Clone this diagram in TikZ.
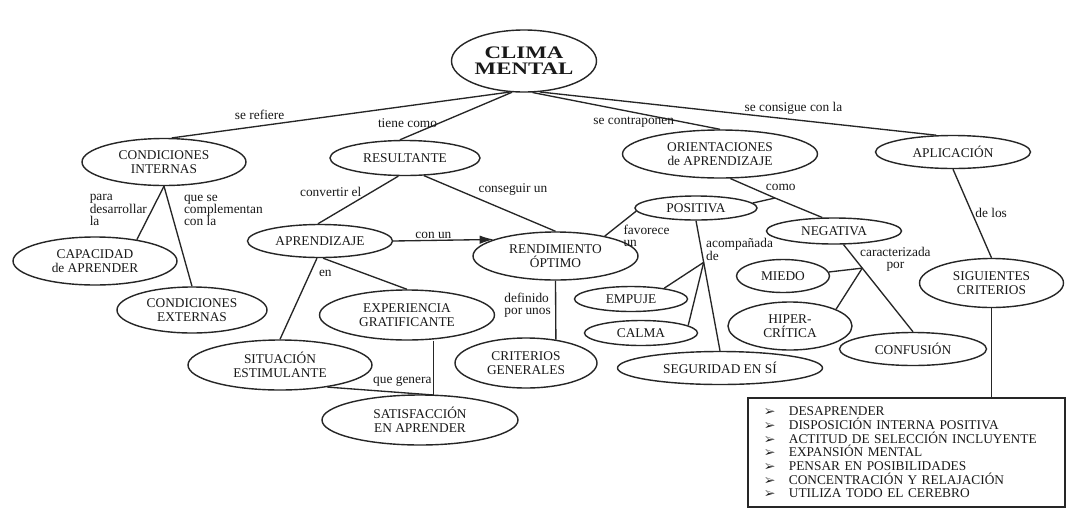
\documentclass[tikz,border=0pt]{standalone}
\usepackage{fontspec}
\setmainfont{Liberation Serif}
\newfontfamily\fuentetitulo[FakeStretch=1.3]{Liberation Serif}
\usepackage{pifont}
\usepackage{tikz}
\usetikzlibrary{arrows.meta,shapes.geometric,positioning}
\newcommand{\fuenteconcepto}{\fontsize{9.5}{10}\selectfont}
\newcommand{\fuenterotulo}{\fontsize{9.5}{8.8}\selectfont}
\newcommand{\fuentelista}{\fontsize{9.5}{9.7}\selectfont}
\newcommand{\vineta}{\makebox[17pt][l]{\fontsize{8}{8}\selectfont\ding{226}}}
\tikzset{%
  medida/.style 2 args={minimum width=#1*0.025cm,minimum height=#2*0.025cm},
  concepto/.style={ellipse,draw=black!85,line width=1pt,text=black!90,inner sep=0pt,align=center,font=\fuenteconcepto},
  titulo/.style={concepto,font=\fuentetitulo\bfseries\fontsize{12.5}{11.4}\selectfont},
  enlace/.style={draw=black!85,line width=0.95pt},
  conecta/.style={enlace,arrows=-{Latex[width=6pt,length=10pt]}},
  rotulo/.style={text=black!90,font=\fuenterotulo,align=left,inner sep=1pt},
  caja/.style={draw=black!85,line width=1pt,rectangle,align=left,text=black!90,font=\fuentelista,inner xsep=12pt,text width=7.075cm,minimum height=2.725cm}
}
\begin{document}
\begin{tikzpicture}[x=0.025cm,y=-0.025cm]
  \useasboundingbox[fill=white] (0,0) rectangle (1067,515);
  \node[titulo,medida={145}{62}] (clima) at (524,61) {CLIMA\\MENTAL};
  \node[concepto,medida={164}{47}] (cint) at (164,162) {CONDICIONES\\INTERNAS};
  \node[concepto,medida={150}{35}] (result) at (405,158) {RESULTANTE};
  \node[concepto,medida={195}{48}] (orient) at (720,154) {ORIENTACIONES\\de APRENDIZAJE};
  \node[concepto,medida={155}{33}] (aplic) at (953,152) {APLICACIÓN};
  \node[concepto,medida={164}{48}] (capac) at (95,261) {CAPACIDAD\\de APRENDER};
  \node[concepto,medida={150}{46}] (cext) at (192,310) {CONDICIONES\\EXTERNAS};
  \node[concepto,medida={145}{33}] (aprend) at (320,241) {APRENDIZAJE};
  \node[concepto,medida={165}{48}] (rendim) at (555.5,256) {RENDIMIENTO\\ÓPTIMO};
  \node[concepto,medida={122}{24}] (posit) at (696,208) {POSITIVA};
  \node[concepto,medida={135}{26}] (negat) at (834,231) {NEGATIVA};
  \node[concepto,medida={175}{50}] (experi) at (407,315) {EXPERIENCIA\\GRATIFICANTE};
  \node[concepto,medida={184}{50}] (situac) at (280,365) {SITUACIÓN\\ESTIMULANTE};
  \node[concepto,medida={196}{50}] (satisf) at (420,420) {SATISFACCIÓN\\EN APRENDER};
  \node[concepto,medida={142}{50}] (critgen) at (526,363) {CRITERIOS\\GENERALES};
  \node[concepto,medida={113}{25}] (empuje) at (631,299) {EMPUJE};
  \node[concepto,medida={113}{25}] (calma) at (641,333) {CALMA};
  \node[concepto,medida={205}{33}] (segur) at (720,368) {SEGURIDAD EN SÍ};
  \node[concepto,medida={93}{33}] (miedo) at (783,276) {MIEDO};
  \node[concepto,medida={124}{48}] (hiper) at (790,326) {HIPER-\\CRÍTICA};
  \node[concepto,medida={147}{33}] (confus) at (913,349) {CONFUSIÓN};
  \node[concepto,medida={144}{49}] (sigui) at (991.5,283) {SIGUIENTES\\CRITERIOS};
  \node[caja] (lista) at (906.5,452.5) {\vineta DESAPRENDER\\
    \vineta DISPOSICIÓN INTERNA POSITIVA\\
    \vineta ACTITUD DE SELECCIÓN INCLUYENTE\\
    \vineta EXPANSIÓN MENTAL\\
    \vineta PENSAR EN POSIBILIDADES\\
    \vineta CONCENTRACIÓN Y RELAJACIÓN\\
    \vineta UTILIZA TODO EL CEREBRO};

  \draw[enlace] (clima.245) -- node[rotulo,pos=0.74,above=3pt] (r-refiere) {se refiere} (cint.72);
  \draw[enlace] (clima.249) -- node[rotulo,pos=0.65,left] (r-tiene) {tiene como} (result.106);
  \draw[enlace] (clima.285) -- node[rotulo,pos=0.54,below=2pt] (r-contra) {se contraponen} (orient.north);
  \draw[enlace] (clima.297) -- node[rotulo,pos=0.64,above=2pt] (r-consigue) {se consigue con la} (aplic.135);
  \draw[enlace] (cint.south) -- node[rotulo,pos=0.45,left=2pt] (r-desarr) {para\\desarrollar\\la} (capac.27);
  \draw[enlace] (cint.south) -- node[rotulo,pos=0.24,right=8pt] (r-comple) {que se\\complementan\\con la} (cext.north);
  \draw[enlace] (result.250) -- node[rotulo,pos=0.33,left=6pt] (r-convert) {convertir el} (aprend.97);
  \draw[enlace] (result.317) -- node[rotulo,pos=0.4,above right] (r-conseg) {conseguir un} (rendim.north);
  \draw[conecta] (aprend.east) -- node[rotulo,pos=0.4,above] (r-conun) {con un} (rendim.165);
  \draw[enlace] (aprend.260) -- node[rotulo,pos=0.19,right=5pt] (r-en) {en} (situac.north);
  \draw[enlace] (aprend.280) -- (experi.north);
  \coordinate (jsat) at (433.5,395);
  \draw[enlace] (experi.south -| jsat) -- node[rotulo,pos=0.76,left=0pt] (r-genera) {que genera} (jsat);
  \draw[enlace] (situac.335) -- (jsat);
  \draw[enlace] (rendim.south) -- node[rotulo,pos=0.42,left=2pt] (r-defin) {definido\\por unos} (critgen.38);
  \coordinate (bcomo) at (775,198);
  \draw[enlace] (orient.293) -- node[rotulo,pos=0.75,above right=0pt] (r-como) {como} (bcomo) -- (negat.131);
  \draw[enlace] (posit.5) -- (bcomo);
  \draw[enlace] (posit.183) -- node[rotulo,pos=0.47,anchor=north west] (r-favor) {favorece\\un} (rendim.22);
  \draw[enlace] (posit.south) -- node[rotulo,pos=0.22,right=2pt] (r-acomp) {acompañada\\de} coordinate[pos=0.32] (bacomp) (segur.north);
  \draw[enlace] (empuje.18) -- (bacomp);
  \draw[enlace] (calma.9) -- (bacomp);
  \draw[enlace] (negat.305) -- node[rotulo,pos=0.17,right=2pt,align=center] (r-carac) {caracterizada\\por} coordinate[pos=0.27] (bcarac) (confus.north);
  \draw[enlace] (miedo.5) -- (bcarac);
  \draw[enlace] (hiper.20) -- (bcarac);
  \draw[enlace] (aplic.south) -- node[rotulo,pos=0.49,right=1pt] (r-delos) {de los} (sigui.north);
  \draw[enlace] (sigui.south) -- (sigui.south |- lista.north);
\end{tikzpicture}
\end{document}
